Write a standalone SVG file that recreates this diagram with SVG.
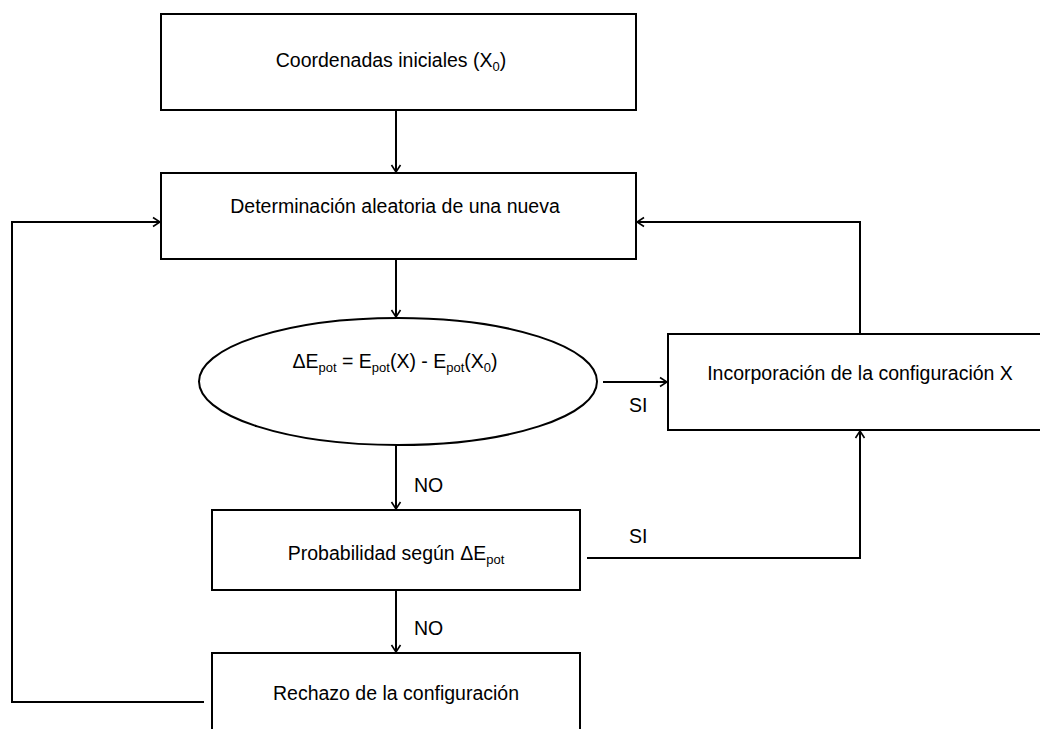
<svg xmlns="http://www.w3.org/2000/svg" width="1040" height="729" viewBox="0 0 1040 729">
<defs>
<marker id="arr" markerUnits="userSpaceOnUse" markerWidth="12" markerHeight="12" viewBox="0 0 12 12" refX="11" refY="6" orient="auto">
<path d="M4,1.5 L11,6 L4,10.5" fill="none" stroke="#000" stroke-width="1.6"/>
</marker>
</defs>
<style>
.box{fill:#fff;stroke:#000;stroke-width:2}
.t{font-family:"Liberation Sans",Arial,sans-serif;font-size:19.5px;fill:#000;text-anchor:middle}
.l{font-family:"Liberation Sans",Arial,sans-serif;font-size:19.5px;fill:#000}
.c{fill:none;stroke:#000;stroke-width:2}
.s{font-size:13px}
</style>
<rect width="1040" height="729" fill="#fff"/>
<g id="connectors">
<path class="c" d="M396,110 V172" marker-end="url(#arr)"/>
<path class="c" d="M396,259 V317" marker-end="url(#arr)"/>
<path class="c" d="M603,382 H667" marker-end="url(#arr)"/>
<path class="c" d="M396,445 V509" marker-end="url(#arr)"/>
<path class="c" d="M396,590 V652" marker-end="url(#arr)"/>
<path class="c" d="M587,558 H860 V431" marker-end="url(#arr)"/>
<path class="c" d="M860,334 V222 H637" marker-end="url(#arr)"/>
<path class="c" d="M204,702 H12 V222 H160" marker-end="url(#arr)"/>
<text class="l" x="629" y="412">SI</text>
<text class="l" x="629" y="543">SI</text>
<text class="l" x="414" y="492">NO</text>
<text class="l" x="414" y="635">NO</text>
</g>
<g id="n1">
<rect class="box" x="161" y="14" width="475" height="96"/>
<text class="t" x="391" y="67">Coordenadas iniciales (X<tspan class="s" dy="4">0</tspan><tspan dy="-4">)</tspan></text>
</g>
<g id="n2">
<rect class="box" x="161" y="173" width="475" height="86"/>
<text class="t" x="395" y="213">Determinación aleatoria de una nueva</text>
</g>
<g id="n3">
<ellipse cx="398" cy="381.5" rx="199" ry="63.5" fill="#fff" stroke="#000" stroke-width="2"/>
<text class="t" x="395" y="368">ΔE<tspan class="s" dy="4">pot</tspan><tspan dy="-4"> = E</tspan><tspan class="s" dy="4">pot</tspan><tspan dy="-4">(X) - E</tspan><tspan class="s" dy="4">pot</tspan><tspan dy="-4">(X</tspan><tspan class="s" dy="4">0</tspan><tspan dy="-4">)</tspan></text>
</g>
<g id="n4">
<rect class="box" x="668" y="334" width="384" height="96"/>
<text class="t" x="860" y="380">Incorporación de la configuración X</text>
</g>
<g id="n5">
<rect class="box" x="212" y="510" width="368" height="80"/>
<text class="t" x="396" y="560">Probabilidad según ΔE<tspan class="s" dy="4">pot</tspan></text>
</g>
<g id="n6">
<rect class="box" x="212" y="653" width="368" height="80"/>
<text class="t" x="396" y="700">Rechazo de la configuración</text>
</g>
</svg>
